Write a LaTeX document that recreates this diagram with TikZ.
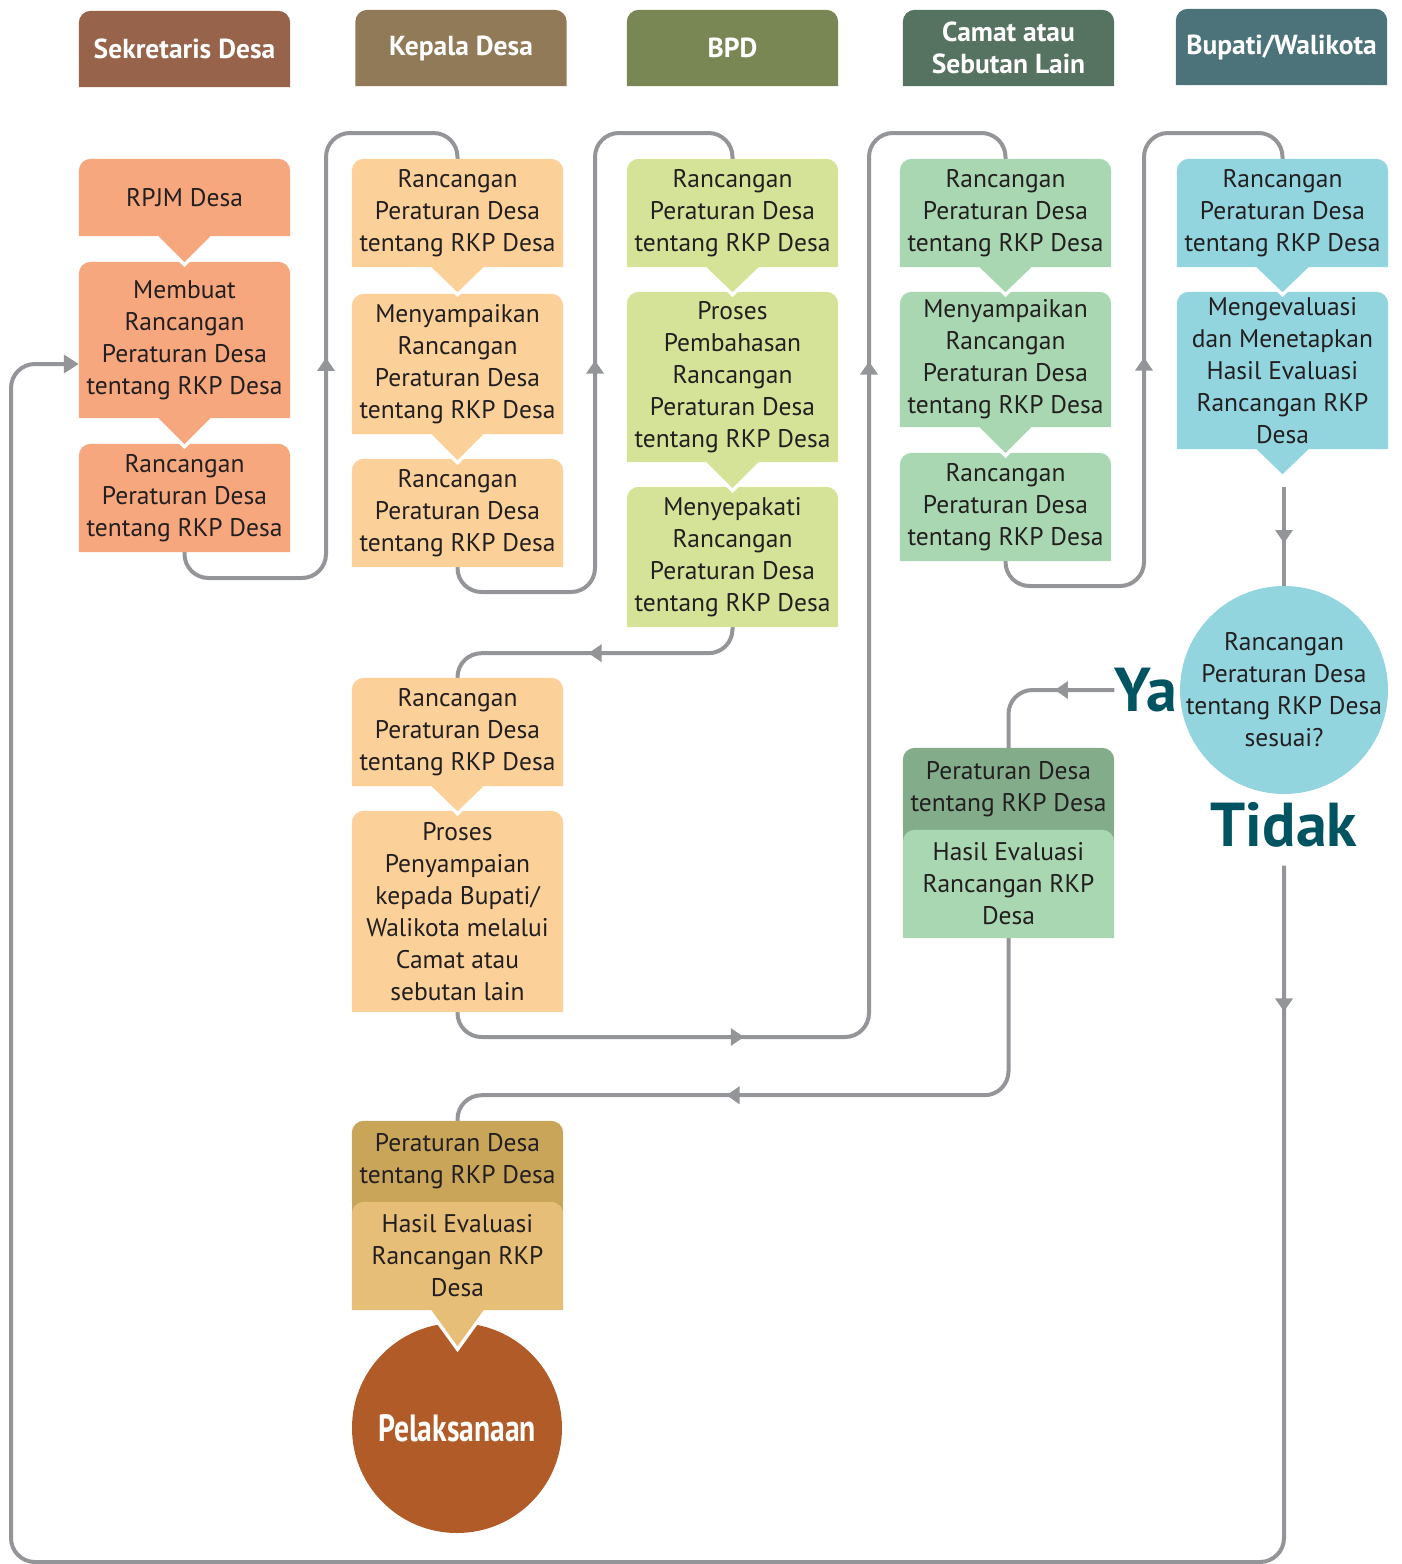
\documentclass[tikz,border=0pt]{standalone}
\usepackage{fontspec}
\setmainfont{PT Sans}
\newfontfamily\narrowfont[FakeStretch=0.78]{PT Sans}
\usetikzlibrary{calc,arrows.meta,backgrounds}

\definecolor{linegray}{HTML}{939598}
\definecolor{txt}{HTML}{231F20}
\definecolor{hdsek}{HTML}{97634A}
\definecolor{hdkep}{HTML}{917A58}
\definecolor{hdbpd}{HTML}{798755}
\definecolor{hdcam}{HTML}{557360}
\definecolor{hdbup}{HTML}{4C737A}
\definecolor{sekfill}{HTML}{F6A77E}
\definecolor{kepfill}{HTML}{FBD199}
\definecolor{bpdfill}{HTML}{D4E397}
\definecolor{camfill}{HTML}{A8D7B1}
\definecolor{camdark}{HTML}{83AC8B}
\definecolor{bupfill}{HTML}{92D5DF}
\definecolor{perdes}{HTML}{C9A55A}
\definecolor{hasil}{HTML}{E6BE77}
\definecolor{pelfill}{HTML}{B15B28}
\definecolor{yateal}{HTML}{005461}

% box with round top corners
\newcommand\panel[2]{\fill[#2] (#1.south west) [rounded corners=12pt] -- (#1.north west) -- (#1.north east) [sharp corners] -- (#1.south east) -- cycle;}
% same box with pointer below
\newcommand\bubble[3]{%
  \draw[white, line width=7pt] ($(#1.south)+(-26,0)$) -- ($(#1.south)+(0,#3)$) -- ($(#1.south)+(26,0)$);
  \fill[#2] (#1.south west) [rounded corners=12pt] -- (#1.north west) -- (#1.north east) [sharp corners] -- (#1.south east) -- ($(#1.south)+(26,0)$) -- ($(#1.south)+(0,#3)$) -- ($(#1.south)+(-26,0)$) -- cycle;}
% arrow head sitting on a line
\newcommand\tipglyph{\tikz\fill[linegray, sharp corners, draw=none] (0pt,-9pt) -- (13pt,0pt) -- (0pt,9pt) -- cycle;}

\tikzset{
  lane/.style={minimum width=211pt, minimum height=76pt, inner sep=0pt, align=center, text=white, font=\bfseries\fontsize{27.5}{32}\selectfont},
  stepbox/.style={minimum width=211pt, inner sep=0pt, align=center, text=txt, font=\fontsize{25.5}{32}\selectfont},
  conn/.style={draw=linegray, line width=4pt, rounded corners=24pt},
  midtip/.style={sloped, allow upside down, inner sep=0pt},
  answer/.style={inner sep=0pt, text=yateal, font=\bfseries\fontsize{62}{62}\selectfont},
}

\begin{document}
\begin{tikzpicture}[x=1pt, y=-1pt]
\useasboundingbox (0,0) rectangle (1402,1564);

% heads
\node[lane] (hsek) at (184.5,49) {Sekretaris Desa};
\node[lane] (hkep) at (461,48) {Kepala Desa};
\node[lane] (hbpd) at (732.5,48) {BPD};
\node[lane] (hcam) at (1008.5,48) {Camat atau\\Sebutan Lain};
\node[lane] (hbup) at (1281.5,47) {Bupati/Walikota};

% Sekretaris Desa
\node[stepbox, minimum height=77pt] (b1a) at (184.5,197.5) {RPJM Desa};
\node[stepbox, minimum height=156pt] (b1b) at (184.5,340) {Membuat\\Rancangan\\Peraturan Desa\\tentang RKP Desa};
\node[stepbox, minimum height=108pt] (b1c) at (184.5,498) {Rancangan\\Peraturan Desa\\tentang RKP Desa};

% Kepala Desa
\node[stepbox, minimum height=108pt] (b2a) at (457.5,213) {Rancangan\\Peraturan Desa\\tentang RKP Desa};
\node[stepbox, minimum height=140pt] (b2b) at (457.5,364) {Menyampaikan\\Rancangan\\Peraturan Desa\\tentang RKP Desa};
\node[stepbox, minimum height=108pt] (b2c) at (457.5,513) {Rancangan\\Peraturan Desa\\tentang RKP Desa};
\node[stepbox, minimum height=108pt] (b2d) at (457.5,732) {Rancangan\\Peraturan Desa\\tentang RKP Desa};
\node[stepbox, minimum height=201pt] (b2e) at (457.5,911.5) {Proses\\Penyampaian\\kepada Bupati/\\Walikota melalui\\Camat atau\\sebutan lain};
\node[stepbox, minimum height=81pt] (b2f) at (457.5,1161.5) {Peraturan Desa\\tentang RKP Desa};
\node[stepbox, minimum height=108pt] (b2g) at (457.5,1256) {Hasil Evaluasi\\Rancangan RKP\\Desa};
\node[circle, minimum size=210pt, inner sep=0pt, text=white, font=\narrowfont\bfseries\fontsize{38}{40}\selectfont] (pel) at (457,1428) {Pelaksanaan};

% BPD
\node[stepbox, minimum height=108pt] (b3a) at (732.5,213) {Rancangan\\Peraturan Desa\\tentang RKP Desa};
\node[stepbox, minimum height=170pt] (b3b) at (732.5,377) {Proses\\Pembahasan\\Rancangan\\Peraturan Desa\\tentang RKP Desa};
\node[stepbox, minimum height=140pt] (b3c) at (732.5,557) {Menyepakati\\Rancangan\\Peraturan Desa\\tentang RKP Desa};

% Camat
\node[stepbox, minimum height=108pt] (b4a) at (1005.5,213) {Rancangan\\Peraturan Desa\\tentang RKP Desa};
\node[stepbox, minimum height=135pt] (b4b) at (1005.5,359.5) {Menyampaikan\\Rancangan\\Peraturan Desa\\tentang RKP Desa};
\node[stepbox, minimum height=108pt] (b4c) at (1005.5,507) {Rancangan\\Peraturan Desa\\tentang RKP Desa};
\node[stepbox, minimum height=82pt] (b4d) at (1008.5,789) {Peraturan Desa\\tentang RKP Desa};
\node[stepbox, minimum height=108pt] (b4e) at (1008.5,884) {Hasil Evaluasi\\Rancangan RKP\\Desa};

% Bupati
\node[stepbox, minimum height=108pt] (b5a) at (1282.5,213) {Rancangan\\Peraturan Desa\\tentang RKP Desa};
\node[stepbox, minimum height=157pt] (b5b) at (1282.5,370.5) {Mengevaluasi\\dan Menetapkan\\Hasil Evaluasi\\Rancangan RKP\\Desa};
\node[stepbox, circle, minimum width=0pt, minimum size=208pt, inner sep=-14pt, fill=bupfill] (chk) at (1284,690) {Rancangan\\Peraturan Desa\\tentang RKP Desa\\sesuai?};
\node[answer] (ya) at (1146,690) {Ya};
\node[answer] (tidak) at (1284,825) {Tidak};

\begin{scope}[on background layer]
% connectors
\draw[conn] (b1c.south) |- (326,578) -- node[midtip, pos=.48]{\tipglyph} (326,133) -| (b2a.north);
\draw[conn] (b2c.south) |- (595,592) -- node[midtip, pos=.49]{\tipglyph} (595,133) -| (b3a.north);
\draw[conn] (b3c.south) -- ++(0,26) -- node[midtip]{\tipglyph} ++(-275,0) -- (b2d.north);
\draw[conn] (b2e.south) |- node[midtip, pos=.84]{\tipglyph} (869,1037) -- node[midtip, pos=.74]{\tipglyph} (869,133) -| (b4a.north);
\draw[conn] (b4c.south) |- (1144,586) -- node[midtip, pos=.49]{\tipglyph} (1144,133) -| (b5a.north);
\draw[conn] (b5b.south -| chk.north) ++(0,38) -- node[midtip]{\tipglyph} (chk.north);
\draw[conn] (ya.west) -| node[midtip, pos=.25]{\tipglyph} (b4d.north);
\draw[conn] (b4e.south) -- ++(0,157) -- node[midtip]{\tipglyph} ++(-551,0) -- (b2f.north);
\draw[conn, -{Triangle[length=15pt, width=18pt]}] ([yshift=-18pt]tidak.south) -- node[midtip, pos=.2]{\tipglyph} (1284,1562) -- (11,1562) |- ([yshift=-24pt]b1b.west);

% fills
\panel{hsek}{hdsek}
\panel{hkep}{hdkep}
\panel{hbpd}{hdbpd}
\panel{hcam}{hdcam}
\panel{hbup}{hdbup}
\panel{b1c}{sekfill}
\bubble{b1b}{sekfill}{26}
\bubble{b1a}{sekfill}{26}
\panel{b2c}{kepfill}
\bubble{b2b}{kepfill}{26}
\bubble{b2a}{kepfill}{25}
\panel{b2e}{kepfill}
\bubble{b2d}{kepfill}{25}
\fill[pelfill] (pel.center) circle[radius=105pt];
\panel{b2f}{perdes}
\fill[perdes] (b2f.south west) rectangle ([yshift=-24pt]b2f.south east);
\bubble{b2g}{hasil}{36}
\panel{b3c}{bpdfill}
\bubble{b3b}{bpdfill}{26}
\bubble{b3a}{bpdfill}{25}
\panel{b4c}{camfill}
\bubble{b4b}{camfill}{26}
\bubble{b4a}{camfill}{25}
\panel{b4d}{camdark}
\fill[camdark] (b4d.south west) rectangle ([yshift=-24pt]b4d.south east);
\panel{b4e}{camfill}
\bubble{b5b}{bupfill}{25}
\bubble{b5a}{bupfill}{25}
\end{scope}
\end{tikzpicture}
\end{document}
